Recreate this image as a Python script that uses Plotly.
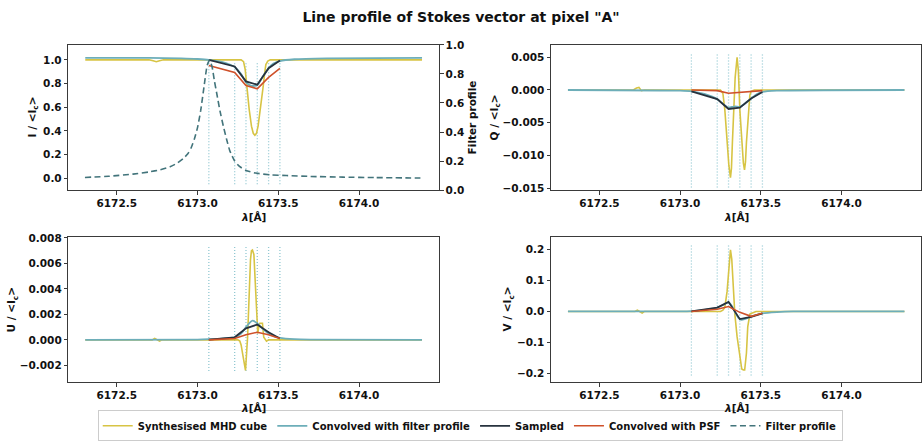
import plotly.graph_objects as go

W, H = 922, 442

# ---------------- data ----------------
lam_samples = [6173.07, 6173.23, 6173.30, 6173.37, 6173.44, 6173.51]

# Stokes I
i_mhd_x = [6172.305, 6172.70, 6172.725, 6172.745, 6172.765, 6172.79, 6173.27, 6173.285, 6173.295,
           6173.305, 6173.32, 6173.334, 6173.345, 6173.355, 6173.365, 6173.375, 6173.39, 6173.406,
           6173.415, 6173.423, 6173.435, 6173.45, 6174.39]
i_mhd_y = [1.0, 1.0, 0.992, 0.984, 0.992, 1.0, 1.0, 0.985, 0.92, 0.77, 0.58, 0.44, 0.38, 0.364,
           0.38, 0.44, 0.58, 0.77, 0.88, 0.96, 0.99, 1.0, 1.0]
i_filt_x = [6172.305, 6172.7, 6172.9, 6173.0, 6173.07, 6173.15, 6173.2, 6173.23, 6173.27, 6173.30,
            6173.335, 6173.37, 6173.40, 6173.44, 6173.47, 6173.51, 6173.6, 6173.8, 6174.39]
i_filt_y = [1.016, 1.016, 1.012, 1.007, 1.0, 0.982, 0.96, 0.94, 0.88, 0.81, 0.78, 0.785, 0.85,
            0.93, 0.97, 0.99, 1.005, 1.013, 1.016]
i_sampled = [1.0, 0.944, 0.818, 0.79, 0.93, 0.994]
i_psf = [0.953, 0.893, 0.783, 0.756, 0.852, 0.928]

# Filter profile (right axis of the I panel)
fp_x = [6172.303, 6172.45, 6172.60, 6172.70, 6172.77, 6172.83, 6172.87, 6172.91, 6172.94, 6172.96,
        6172.98, 6173.00, 6173.02, 6173.04, 6173.06, 6173.075, 6173.09, 6173.105, 6173.12, 6173.14,
        6173.16, 6173.18, 6173.20, 6173.23, 6173.26, 6173.30, 6173.36, 6173.45, 6173.55, 6173.7,
        6173.9, 6174.1, 6174.38]
fp_y = [0.087, 0.095, 0.11, 0.125, 0.14, 0.16, 0.183, 0.215, 0.25, 0.29, 0.35, 0.43, 0.55, 0.71,
        0.86, 0.895, 0.85, 0.75, 0.66, 0.54, 0.44, 0.35, 0.27, 0.2, 0.163, 0.135, 0.117, 0.105,
        0.1, 0.094, 0.089, 0.086, 0.083]

# Stokes Q
q_mhd_x = [6172.305, 6172.71, 6172.73, 6172.745, 6172.76, 6172.78, 6173.25, 6173.265, 6173.277,
           6173.291, 6173.302, 6173.312, 6173.318, 6173.324, 6173.333, 6173.341, 6173.353, 6173.361,
           6173.37, 6173.382, 6173.392, 6173.399, 6173.405, 6173.411, 6173.424, 6173.432, 6173.44,
           6173.46, 6174.39]
q_mhd_y = [0, 0, 0.0003, 0.0004, -0.0001, 0, 0, -0.0005, -0.003, -0.008, -0.0115, -0.0134, -0.012,
           -0.008, -0.003, 0.0019, 0.005, 0.0029, -0.003, -0.008, -0.0112, -0.0122, -0.011, -0.008,
           -0.003, -0.0008, -0.0002, 0, 0]
q_filt_x = [6172.305, 6173.0, 6173.07, 6173.15, 6173.23, 6173.27, 6173.30, 6173.32, 6173.34,
            6173.37, 6173.40, 6173.44, 6173.48, 6173.51, 6173.6, 6174.39]
q_filt_y = [0, -0.0001, -0.0002, -0.0006, -0.0014, -0.0022, -0.0027, -0.0026, -0.0025, -0.0026,
            -0.0021, -0.0013, -0.0006, -0.0003, -0.0001, 0]
q_sampled = [-0.0002, -0.0014, -0.0029, -0.0027, -0.0013, -0.0003]
q_psf = [0.0, -0.0001, -0.0005, -0.0004, -0.0003, -0.0001]

# Stokes U
u_mhd_x = [6172.305, 6172.72, 6172.735, 6172.75, 6172.765, 6172.78, 6173.25, 6173.262, 6173.27,
           6173.282, 6173.297, 6173.31, 6173.32, 6173.328, 6173.334, 6173.340, 6173.349, 6173.357,
           6173.365, 6173.373, 6173.38, 6173.386, 6173.402, 6173.41, 6173.427, 6173.44, 6174.39]
u_mhd_y = [0, 0, 0.00012, 0.0, -0.0001, 0, 0, -0.0001, -0.0004, -0.0013, -0.0024, 0.0002, 0.0040,
           0.0063, 0.0070, 0.00705, 0.0067, 0.0048, 0.002, 0.0005, 0.0011, 0.0013, 0.0013, 0.0002,
           -0.0001, 0, 0]
u_filt_x = [6172.305, 6173.0, 6173.07, 6173.15, 6173.23, 6173.27, 6173.30, 6173.32, 6173.34,
            6173.37, 6173.40, 6173.44, 6173.48, 6173.51, 6173.6, 6173.7, 6174.39]
u_filt_y = [0, 0.00002, 0.00005, 0.0001, 0.0002, 0.0005, 0.001, 0.0013, 0.0015, 0.0013, 0.0009,
            0.0005, 0.00025, 0.00015, 0.00005, 0.00002, 0]
u_sampled = [0.00002, 0.0002, 0.0009, 0.0012, 0.0006, 0.0001]
u_psf = [0.0, 0.0001, 0.0004, 0.0006, 0.0004, 0.0001]

# Stokes V
v_mhd_x = [6172.305, 6172.72, 6172.735, 6172.75, 6172.765, 6172.78, 6173.25, 6173.265, 6173.277,
           6173.291, 6173.304, 6173.312, 6173.32, 6173.328, 6173.339, 6173.353, 6173.37, 6173.382,
           6173.392, 6173.40, 6173.411, 6173.419, 6173.432, 6173.45, 6173.47, 6174.39]
v_mhd_y = [0, 0, 0.004, 0.0, -0.005, 0, 0, 0.004, 0.013, 0.065, 0.139, 0.200, 0.17, 0.076, -0.0085,
           -0.082, -0.145, -0.187, -0.19, -0.19, -0.135, -0.05, -0.0085, -0.005, 0, 0]
v_filt_x = [6172.305, 6173.0, 6173.07, 6173.15, 6173.23, 6173.27, 6173.30, 6173.32, 6173.34,
            6173.36, 6173.38, 6173.40, 6173.44, 6173.48, 6173.51, 6173.6, 6173.7, 6174.39]
v_filt_y = [0, 0, 0.001, 0.005, 0.012, 0.022, 0.029, 0.018, -0.002, -0.02, -0.027, -0.025, -0.017,
            -0.01, -0.006, -0.002, 0, 0]
v_sampled = [0.0, 0.0126, 0.031, -0.025, -0.018, -0.006]
v_psf = [0.0, 0.007, 0.016, -0.003, -0.016, -0.006]

# extent of the dotted sample markers per panel (data units)
vline_span = {"I": (-0.049, 0.975), "Q": (-0.0149, 0.0055), "U": (-0.00244, 0.00736),
              "V": (-0.208, 0.2147)}

x_ticks = [6172.5, 6173.0, 6173.5, 6174.0]
i_ticks = [0.0, 0.2, 0.4, 0.6, 0.8, 1.0]
fp_ticks = [0.0, 0.2, 0.4, 0.6, 0.8, 1.0]
q_ticks = [-0.015, -0.010, -0.005, 0.0, 0.005]
u_ticks = [-0.002, 0.0, 0.002, 0.004, 0.006, 0.008]
v_ticks = [-0.2, -0.1, 0.0, 0.1, 0.2]

legend_names = ["Synthesised MHD cube", "Convolved with filter profile", "Sampled",
                "Convolved with PSF", "Filter profile"]

# ---------------- style ----------------
C_MHD = "#d7c444"
C_FILT = "#6daeb9"
C_SAMP = "#27323e"
C_PSF = "#cf512b"
C_FP = "#42747b"
C_VL = "#92c8d2"
FONT = "DejaVu Sans"

def fmt(v, nd):
    s = f"{abs(v):.{nd}f}"
    return ("\u2212" + s) if v < 0 else s

fig = go.Figure()

panels = [
    ("I", "x", "y", i_mhd_x, i_mhd_y, i_filt_x, i_filt_y, i_sampled, i_psf),
    ("Q", "x2", "y2", q_mhd_x, q_mhd_y, q_filt_x, q_filt_y, q_sampled, q_psf),
    ("U", "x3", "y3", u_mhd_x, u_mhd_y, u_filt_x, u_filt_y, u_sampled, u_psf),
    ("V", "x4", "y4", v_mhd_x, v_mhd_y, v_filt_x, v_filt_y, v_sampled, v_psf),
]

for k, (name, xa, ya, mx, my, fx, fy, sy, py) in enumerate(panels):
    lo, hi = vline_span[name]
    vx, vy = [], []
    for lam in lam_samples:
        vx += [lam, lam, None]
        vy += [lo, hi, None]
    fig.add_trace(go.Scatter(x=vx, y=vy, xaxis=xa, yaxis=ya, mode="lines",
                             line=dict(color=C_VL, width=1.3, dash="1px,2px"),
                             showlegend=False, hoverinfo="skip"))
    first = (k == 0)
    fig.add_trace(go.Scatter(x=mx, y=my, xaxis=xa, yaxis=ya, mode="lines",
                             line=dict(color=C_MHD, width=1.6), name=legend_names[0],
                             legendgroup="mhd", showlegend=first))
    fig.add_trace(go.Scatter(x=fx, y=fy, xaxis=xa, yaxis=ya, mode="lines",
                             line=dict(color=C_FILT, width=1.8, shape="spline", smoothing=0.6),
                             name=legend_names[1], legendgroup="filt", showlegend=first))
    fig.add_trace(go.Scatter(x=lam_samples, y=sy, xaxis=xa, yaxis=ya, mode="lines",
                             line=dict(color=C_SAMP, width=1.8), name=legend_names[2],
                             legendgroup="samp", showlegend=first))
    fig.add_trace(go.Scatter(x=lam_samples, y=py, xaxis=xa, yaxis=ya, mode="lines",
                             line=dict(color=C_PSF, width=1.6), name=legend_names[3],
                             legendgroup="psf", showlegend=first))

fig.add_trace(go.Scatter(x=fp_x, y=fp_y, xaxis="x", yaxis="y5", mode="lines",
                         line=dict(color=C_FP, width=1.6, dash="6px,3.5px", shape="spline",
                                   smoothing=0.5),
                         name=legend_names[4]))

# ---------------- layout ----------------
xl = [68.3 / W, 439.0 / W]
xr = [551.0 / W, 921.4 / W]
yt = [1 - 189.2 / H, 1 - 40.0 / H]
yb = [1 - 386.8 / H, 1 - 237.3 / H]
xrange_ = [6172.2, 6174.495]

tickfont = dict(family=FONT, size=10.5, color="#111")
common = dict(showline=True, linecolor="#3a3a3a", linewidth=1, mirror=True, ticks="outside",
              ticklen=3.5, tickwidth=1, tickcolor="#3a3a3a", showgrid=False, zeroline=False,
              tickfont=tickfont)

def xax(domain, anchor):
    return dict(domain=domain, anchor=anchor, range=xrange_, tickvals=x_ticks,
                ticktext=[f"<b>{v:.1f}</b>" for v in x_ticks], **common)

def yax(domain, anchor, rng, ticks, nd):
    return dict(domain=domain, anchor=anchor, range=rng, tickvals=ticks,
                ticktext=[f"<b>{fmt(v, nd)}</b>" for v in ticks], **common)

fig.update_layout(
    width=W, height=H, margin=dict(l=0, r=0, t=0, b=0),
    paper_bgcolor="white", plot_bgcolor="white",
    font=dict(family=FONT, color="#111"),
    xaxis=xax(xl, "y"), yaxis=yax(yt, "x", [-0.099, 1.126], i_ticks, 1),
    xaxis2=xax(xr, "y2"), yaxis2=yax(yt, "x2", [-0.0153, 0.00689], q_ticks, 3),
    xaxis3=xax(xl, "y3"), yaxis3=yax(yb, "x3", [-0.00333, 0.00808], u_ticks, 3),
    xaxis4=xax(xr, "y4"), yaxis4=yax(yb, "x4", [-0.230, 0.242], v_ticks, 1),
    yaxis5=dict(overlaying="y", anchor="x", side="right", range=[0, 1], tickvals=fp_ticks,
                ticktext=[f"<b>{v:.1f}</b>" for v in fp_ticks], showline=False,
                ticks="outside", ticklen=3.5, tickwidth=1, tickcolor="#3a3a3a",
                showgrid=False, zeroline=False, tickfont=tickfont),
    title=dict(text="<b>Line profile of Stokes vector at pixel \"A\"</b>", x=0.5, xanchor="center",
               y=1 - 17.5 / H, yanchor="middle", font=dict(family=FONT, size=14, color="#111")),
    legend=dict(orientation="h", x=0.51, xanchor="center", y=1 - 431.5 / H, yanchor="middle",
                bgcolor="white", bordercolor="#cccccc", borderwidth=1,
                font=dict(family=FONT, size=10, color="#111"), itemwidth=30,
                tracegroupgap=0),
)

# legend entries in bold
for tr in fig.data:
    if tr.showlegend is not False and tr.name:
        tr.name = f"<b>{tr.name}</b>"

ann = []
lab_font = dict(family=FONT, size=10.5, color="#111")
# x-axis labels
for cx, cy in [((68.3 + 439) / 2, 217), ((551 + 921.4) / 2, 217),
               ((68.3 + 439) / 2, 413), ((551 + 921.4) / 2, 413)]:
    ann.append(dict(text="<b><i>λ</i>[Å]</b>", x=cx / W, y=1 - cy / H, xref="paper", yref="paper",
                    showarrow=False, xanchor="center", yanchor="middle", font=lab_font))
# y-axis labels
for text, px, py in [("I / &lt;I<sub>c</sub>&gt;", 33, 114.5),
                     ("Filter profile", 472, 114.5),
                     ("Q / &lt;I<sub>c</sub>&gt;", 495, 114.5),
                     ("U / &lt;I<sub>c</sub>&gt;", 12, 312),
                     ("V / &lt;I<sub>c</sub>&gt;", 508, 312)]:
    ann.append(dict(text=f"<b>{text}</b>", x=px / W, y=1 - py / H, xref="paper", yref="paper",
                    showarrow=False, textangle=-90, xanchor="center", yanchor="middle",
                    font=lab_font))
fig.update_layout(annotations=ann)

fig.write_html("out.html")
